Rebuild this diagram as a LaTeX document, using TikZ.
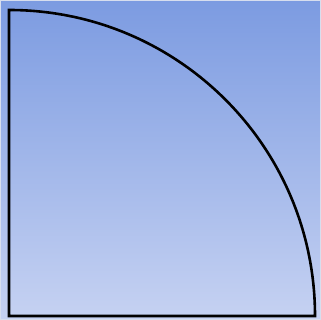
\documentclass[tikz,border=0pt]{standalone}
\begin{document}
\begin{tikzpicture}[x=1pt,y=1pt]
\definecolor{topc}{RGB}{124,155,225}
\definecolor{botc}{RGB}{198,210,242}
\definecolor{framec}{RGB}{215,222,238}
\useasboundingbox (0,0) rectangle (321,320);
\shade[top color=topc,bottom color=botc] (0,0) rectangle (321,320);
\draw[framec,line width=1pt] (0.5,0.5) rectangle (320.5,319.5);
\coordinate (o) at (9,4);
\coordinate (t) at (9,310);
\coordinate (r) at (315,4);
\draw[line width=2.6pt,line join=miter] (t) -- (o) -- (r) arc[start angle=0,end angle=90,radius=306] -- cycle;
\end{tikzpicture}
\end{document}
